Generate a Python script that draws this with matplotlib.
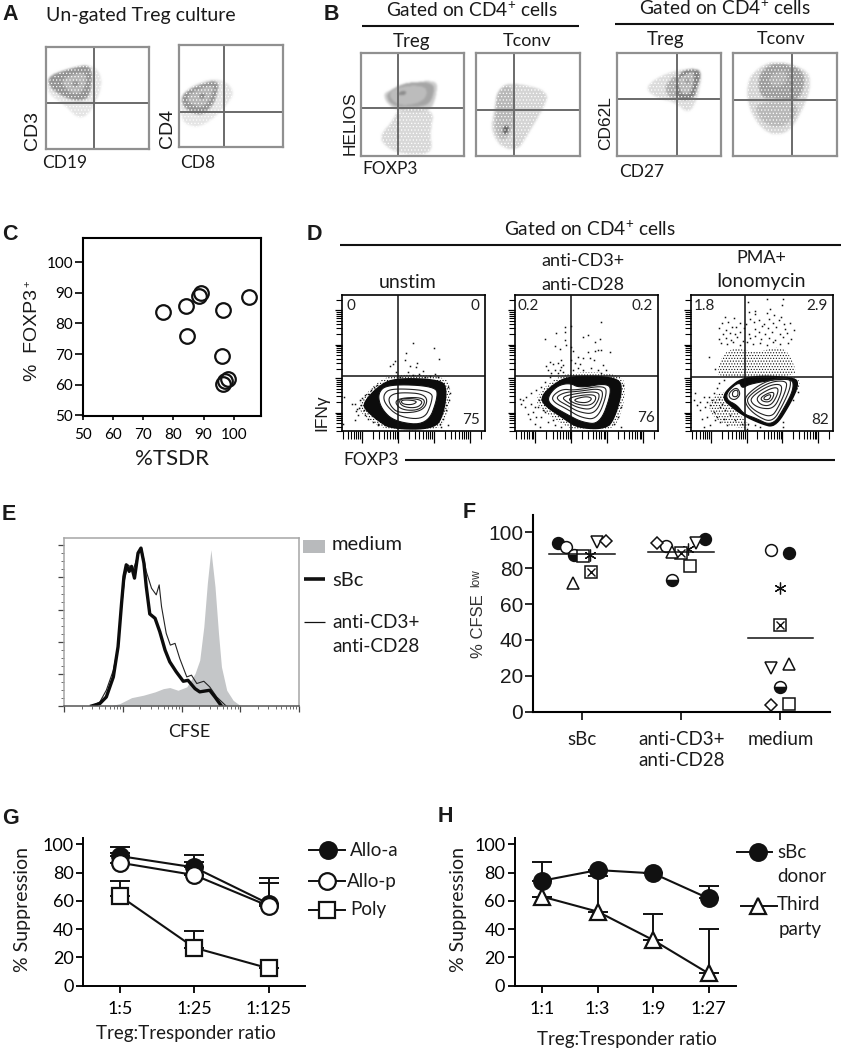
import numpy as np
import matplotlib
matplotlib.use("Agg")
import matplotlib.pyplot as plt
from matplotlib.colors import LinearSegmentedColormap
from matplotlib.path import Path
from matplotlib.patches import Polygon

W, H = 841, 1050
plt.rcParams['font.family'] = ['Lato', 'DejaVu Sans']
plt.rcParams['mathtext.default'] = 'regular'
plt.rcParams['hatch.linewidth'] = 0.5

# ---------- A/B density plots: outlines, percent of box, (polygon, darkness)
a1_zones = [([(0,66),(15,77),(44,85),(56,69),(48,43),(34,27),(18,43),(2,54)], 0.14),
            ([(2,71),(15,77),(43,84),(45,69),(42,49),(27,47),(11,54),(2,63)], 0.55),
            ([(13,69),(39,77),(39,63),(32,53),(21,56)], 0.38),
            ([(25,66),(32,66),(31,62),(26,62)], 0.62)]
a2_zones = [([(1,55),(36,69),(55,55),(44,38),(26,22),(14,19),(1,25)], 0.14),
            ([(1,53),(39,68),(36,48),(30,37),(20,30),(4,37)], 0.55),
            ([(7,51),(35,63),(30,46),(22,38),(9,42)], 0.38),
            ([(19,51),(25,52),(24,47),(20,47)], 0.65)]
b1_zones = [([(36,46),(72,46),(67,23),(70,1),(39,1),(22,10),(18,20),(30,33)], 0.2),
            ([(22,64),(75,77),(73,56),(67,43),(36,43),(23,53)], 0.26),
            ([(25,62),(43,72),(72,72),(70,57),(64,48),(36,47),(26,53)], 0.46),
            ([(28,64),(48,69),(65,67),(62,53),(39,48),(28,56)], 0.34),
            ([(36,62),(44,64),(43,59),(36,59)], 0.6)]
b2_zones = [([(21,66),(34,72),(72,63),(63,43),(50,21),(40,5),(24,8),(14,24),(17,43)], 0.22),
            ([(19,63),(35,71),(37,45),(35,24),(26,13),(17,24),(19,43)], 0.36),
            ([(26,29),(32,29),(30,21),(26,21)], 0.8)]
b3_zones = [([(25,68),(54,84),(83,85),(78,56),(69,40),(57,52),(38,56)], 0.18),
            ([(46,70),(60,82),(60,54),(48,58)], 0.42),
            ([(58,70),(61,84),(83,85),(77,66),(74,55),(57,55)], 0.65),
            ([(60,77),(72,82),(75,82),(72,60),(62,60),(59,68)], 0.36),
            ([(65,76),(70,76),(70,70),(66,70)], 0.5)]
b4_zones = [([(19,82),(39,94),(71,85),(76,69),(65,40),(52,21),(32,21),(15,44),(13,69)], 0.22),
            ([(19,53),(65,53),(58,34),(42,26),(26,34)], 0.36),
            ([(23,79),(39,92),(68,85),(69,66),(61,53),(42,56),(26,56)], 0.5),
            ([(35,80),(52,84),(52,70),(36,66)], 0.4)]

# ---------- C
tsdr = [76.4, 84, 84.4, 88.5, 89.2, 96.5, 105, 96, 98.2, 97, 96.5]
foxp3 = [83.8, 85.7, 75.9, 89, 90, 84.5, 88.6, 69.4, 61.7, 61.1, 60.3]

# ---------- D contour plots, channels (x right, y down)
d1_outer = [(85,340),(130,290),(180,265),(320,270),(335,300),(325,370),(300,415),(170,415),(130,390),(95,360)]
d1_rings = [[(128,308),(160,282),(302,288),(310,320),(278,405),(180,395),(138,355)],
            [(145,312),(170,294),(294,302),(290,340),(268,388),(192,380),(150,342)],
            [(160,320),(190,306),(280,312),(270,362),(192,370),(166,347)],
            [(175,325),(275,320),(260,360),(196,360)],
            [(190,323),(268,328),(250,354),(200,350)],
            [(198,328),(250,332),(234,344),(202,342)]]
d1_dense = [[(70,340),(125,275),(180,252),(335,258),(350,300),(335,385),(310,420),(160,420),(110,395),(75,365)]]
d1_dots = [(235,158),(297,173),(212,188),(312,208),(210,211),(180,212),(173,222),(166,228),(248,220),
           (226,228),(245,232),(183,245),(265,243),(220,245),(252,252),(235,255),(300,253),(195,262),
           (270,260),(285,258),(310,262),(60,340),(65,355),(70,375),(75,330),(50,340),(28,320),(63,362),
           (82,322),(90,315),(100,312),(108,300),(118,290),(125,285),(340,290),(345,310),(342,330),
           (335,345),(335,360),(325,385),(315,400),(90,375),(100,385),(115,395),(130,400),(150,405),
           (60,388),(25,400),(150,280),(130,405),(320,410),(340,405),(78,345),(88,360),(72,352)]

d2_outer = [(100,320),(135,285),(185,258),(330,262),(342,300),(320,380),(295,415),(210,412),(170,385),(110,345)]
d2_rings = [[(118,322),(145,288),(185,278),(215,294),(302,278),(310,310),(276,402),(222,396),(176,372),(128,345)],
            [(130,320),(162,296),(200,301),(290,285),(297,312),(268,388),(218,382),(176,356),(140,338)],
            [(146,319),(173,306),(210,304),(279,294),(286,318),(261,372),(213,366),(177,345),(151,331)],
            [(160,320),(215,308),(272,304),(274,326),(253,358),(213,354),(177,336)],
            [(176,325),(225,314),(264,314),(262,334),(242,347),(203,342)],
            [(196,328),(235,318),(254,325),(238,338),(208,336)]]
d2_dense = [[(85,320),(120,280),(180,245),(340,250),(355,300),(335,385),(310,420),(200,420),(150,395),(90,350)]]
d2_dots = [(280,98),(190,108),(172,113),(143,128),(172,125),(240,135),(225,140),(275,148),(110,148),(260,155),
           (172,150),(140,168),(175,165),(155,178),(190,170),(195,182),(260,182),(280,180),(305,185),(240,185),
           (270,180),(210,200),(225,205),(245,205),(258,210),(285,225),(295,240),(125,215),(135,222),(150,218),
           (160,232),(140,240),(120,240),(165,245),(210,235),(225,240),(250,235),(270,240),(280,248),(150,250),
           (130,250),(160,210),(190,210),(200,220),(215,222),(165,225),(115,228),(155,240),(195,240),(35,325),
           (40,340),(50,350),(60,370),(65,385),(80,400),(95,410),(75,365),(55,320),(85,300),(70,310),(90,350),
           (100,380),(120,395),(140,405),(160,410),(110,365),(85,380),(45,330),(100,290),(110,275),(125,262),
           (340,350),(330,380),(340,410),(318,400),(135,390),(70,340),(80,350),(345,285),(92,330),(105,360)]

d3_outer = [(130,300),(185,258),(335,262),(345,285),(320,340),(275,410),(235,400),(180,375),(140,345),(120,325)]
d3_rings = [[(130,305),(168,274),(176,296),(200,280),(326,262),(332,295),(306,348),(268,408),(213,382),(182,372),(160,344),(130,330)],
            [(136,308),(160,290),(172,312),(156,330),(138,324)],
            [(147,304),(163,298),(164,319),(147,320)],
            [(186,315),(250,270),(320,262),(323,290),(299,344),(267,398),(218,376),(186,344)],
            [(191,320),(255,276),(310,271),(310,296),(284,354),(264,381),(222,367),(194,343)],
            [(201,322),(255,286),(295,281),(295,307),(273,355),(233,355),(206,341)],
            [(216,322),(258,296),(285,291),(283,314),(263,347),(232,345)],
            [(231,322),(260,306),(275,308),(262,336),(237,334)],
            [(242,320),(264,311),(259,328),(242,329)]]
d3_dense = [[(100,245),(118,190),(160,172),(215,190),(300,165),(335,225),(338,262),(110,262)],
            [(70,335),(125,295),(140,345),(180,385),(205,412),(150,412),(90,385)],
            [(190,375),(240,400),(275,412),(300,370),(335,310),(352,290),(345,262),(300,262),(315,340),(270,395)]]
d3_dots = [(250,28),(298,29),(195,36),(297,46),(261,58),(214,63),(198,67),(251,71),(216,73),(272,76),(125,81),
           (294,83),(151,86),(201,88),(226,91),(256,89),(286,92),(134,96),(171,99),(116,101),(189,103),(211,98),
           (241,102),(268,99),(301,104),(321,101),(146,111),(159,113),(106,116),(127,119),(181,114),(216,117),
           (236,110),(254,116),(279,113),(306,118),(331,121),(118,131),(141,128),(154,132),(170,127),(196,131),
           (226,126),(246,133),(266,125),(291,132),(311,129),(105,147),(126,143),(144,149),(161,141),(178,152),
           (199,144),(216,139),(234,148),(256,143),(276,150),(299,141),(322,147),(75,200),(95,238),(111,158),
           (131,162),(149,157),(171,164),(191,156),(209,163),(231,158),(251,165),(269,156),(291,163),(315,159),
           (30,330),(48,335),(60,320),(75,320),(90,310),(100,295),(50,360),(65,350),(80,345),(95,335),(105,325),
           (55,385),(70,380),(90,365),(110,350),(125,360),(60,410),(80,405),(95,390),(120,385),(140,375),(155,390),
           (175,400),(195,400),(215,405),(190,415),(230,410),(298,395),(300,410),(330,330),(345,305),(105,280),
           (120,270),(40,345),(85,330),(115,340),(100,380),(35,310),(70,335),(110,395),(130,405)]

# ---------- E histogram, log decades / % of max
medium_x = [0.78,0.95,1.15,1.35,1.55,1.69,1.80,1.94,2.09,2.23,2.31,2.38,2.44,2.50,2.57,2.63,2.68,2.77,2.88,3.01]
medium_y = [0,1.5,5.2,6.7,8.8,10.8,11.5,9.8,11.9,20.2,28.5,49.4,76.5,97.3,74.4,45.2,24.4,9.8,3.5,0]
sbc_x = [0.47,0.61,0.72,0.84,0.92,0.98,1.02,1.06,1.11,1.15,1.20,1.26,1.31,1.36,1.40,1.46,1.55,1.63,1.72,1.80,1.91,2.03,2.11,2.23,2.31,2.48,2.57,2.68]
sbc_y = [0,1.5,5.6,18.1,36.9,64,80.6,87.9,83.8,86.9,79.6,95.2,98.3,89,74.4,57.3,54.6,46.3,34.8,27.5,21.3,15.4,16,10.8,8.8,9.8,5.6,0]
cd3_x = [0.47,0.61,0.72,0.84,0.92,0.98,1.03,1.09,1.18,1.26,1.32,1.40,1.49,1.57,1.62,1.66,1.74,1.81,1.89,1.97,2.09,2.17,2.26,2.38,2.48,2.60,2.76]
cd3_y = [0,2.5,9.8,22.3,36.9,61.9,78.5,87.9,84.8,94.2,98.3,83.8,73.3,69.2,75.4,61.9,45.2,37.9,39,29.6,18.1,19.2,14,15.4,11.9,5.6,0]

# ---------- F
f_cats = ['sBc', 'anti-CD3+\nanti-CD28', 'medium']
f_means = [87.7, 89, 41.1]
f_points = {
    'filled': [(-0.24,94.2),(1.24,96.1),(2.087,88.3)],
    'open': [(-0.16,92),(0.844,92.4),(1.909,90.1)],
    'half': [(-0.08,87.2),(0.91,73.4),(2.0,13.6)],
    'square': [(0.01,86.8),(1.086,81.2),(2.087,4.5)],
    'star': [(0.08,87.4),(1.07,90.5),(1.993,69.1)],
    'xsquare': [(0.09,78),(1.0,88.3),(2.0,48.3)],
    'up': [(-0.09,71.6),(0.908,89.2),(2.087,26.6)],
    'down': [(0.15,94.4),(1.153,93.9),(1.909,24.2)],
    'diamond': [(0.245,95.4),(0.753,93.9),(1.909,3.7)],
}

# ---------- G
g_labels = ['1:5', '1:25', '1:125']
allo_a = [91.7, 83.7, 58]
allo_a_err = [6.2, 8.8, 18.2]
allo_p = [87, 78.3, 56.4]
allo_p_err = [6.6, 9.4, 16.5]
poly = [63.4, 26.9, 12.3]
poly_err = [10.9, 12, 0]

# ---------- H
h_labels = ['1:1', '1:3', '1:9', '1:27']
sbc_donor = [74.3, 81.8, 79.5, 61.8]
sbc_donor_err = [13, 0, 0, 8.7]
third_party = [63, 52.4, 32.3, 8.7]
third_party_err = [0, 25.2, 18.4, 31.4]

fig = plt.figure(figsize=(W / 100, H / 100), dpi=100)


def add_ax(x0, y0, x1, y1):
    return fig.add_axes([x0 / W, 1 - y1 / H, (x1 - x0) / W, (y1 - y0) / H])


def smooth(pts, n=3):
    p = np.array(pts, dtype=float)
    for _ in range(n):
        q = np.roll(p, -1, axis=0)
        p = np.column_stack([0.75 * p + 0.25 * q, 0.25 * p + 0.75 * q]).reshape(-1, 2)
    return p


# overlay in pixels for labels and rules
ov = fig.add_axes([0, 0, 1, 1], zorder=10)
ov.set_xlim(0, W)
ov.set_ylim(H, 0)
ov.axis('off')
ov.patch.set_alpha(0)


def txt(x, y, s, size=12.5, ha='left', va='center', rot=0, font='Lato', color='#1a1a1a', weight='normal'):
    ov.text(x, y, s, fontsize=size, ha=ha, va=va, rotation=rot, family=font, color=color, fontweight=weight)


def rule(x0, x1, y, lw=1.5):
    ov.plot([x0, x1], [y, y], color='#111111', lw=lw, solid_capstyle='butt')


gray_map = LinearSegmentedColormap.from_list('flow', ['#ffffff', '#3c3c3c'])


def density(box, zones, vline, hline):
    x0, y0, x1, y1 = box
    ax = add_ax(x0, y0, x1, y1)
    g = np.linspace(0, 100, 130)
    xx, yy = np.meshgrid(g, g)
    grid = np.column_stack([xx.ravel(), yy.ravel()])
    img = np.zeros(xx.shape)
    for pts, lev in zones:
        mask = Path(smooth(pts)).contains_points(grid).reshape(xx.shape)
        img[mask] = lev
    kernel = np.exp(-0.5 * (np.arange(-5, 6) / 1.3) ** 2)
    kernel /= kernel.sum()
    img = np.apply_along_axis(lambda r: np.convolve(r, kernel, mode='same'), 0, img)
    img = np.apply_along_axis(lambda r: np.convolve(r, kernel, mode='same'), 1, img)
    ax.imshow(img, extent=(0, 100, 0, 100), origin='lower', cmap=gray_map, vmin=0, vmax=1, aspect='auto')
    # white speckle over the sparse outer zone
    ax.add_patch(Polygon(smooth(zones[0][0]), closed=True, fill=False, hatch='.....', ec='white', lw=0))
    ax.set_xticks([])
    ax.set_yticks([])
    for s in ax.spines.values():
        s.set_color('#909090')
        s.set_linewidth(1.6)
    ax.axvline((vline - x0) / (x1 - x0) * 100, color='#6a6a6a', lw=1.4)
    ax.axhline((y1 - hline) / (y1 - y0) * 100, color='#6a6a6a', lw=1.4)


density((46, 47, 149, 149), a1_zones, 94, 103)
density((179, 45, 283, 147.5), a2_zones, 224, 112)
density((361, 53, 464, 156), b1_zones, 398, 108)
density((476, 53, 580, 156), b2_zones, 514, 109.5)
density((617, 53, 721, 156), b3_zones, 677, 99)
density((733, 53, 837, 156), b4_zones, 792, 99.5)

txt(2, 15, 'A', 15.5, font='Liberation Sans', weight='bold')
txt(46, 15, 'Un-gated Treg culture', 14)
txt(33, 130, 'CD3', 14, ha='center', rot=90, font='Liberation Sans')
txt(42, 163, 'CD19', 12.5)
txt(168, 128, 'CD4', 14, ha='center', rot=90, font='Liberation Sans')
txt(180, 163, 'CD8', 12.5)

txt(324, 15, 'B', 15.5, font='Liberation Sans', weight='bold')
txt(472, 10, r'Gated on CD4$^{+}$ cells', 13.8, ha='center')
rule(362, 579, 26)
txt(725, 8, r'Gated on CD4$^{+}$ cells', 13.8, ha='center')
rule(615, 834, 24)
txt(412, 41, 'Treg', 13.5, ha='center')
txt(527, 41, 'Tconv', 13, ha='center')
txt(666, 39, 'Treg', 13.5, ha='center')
txt(781, 39, 'Tconv', 13, ha='center')
txt(350, 123, 'HELIOS', 12.5, ha='center', rot=90, font='Liberation Sans')
txt(362, 169, 'FOXP3', 12.5)
txt(606, 123, 'CD62L', 12.5, ha='center', rot=90, font='Liberation Sans')
txt(619, 172, 'CD27', 12.5)

# C
ax_c = add_ax(83, 238, 260.6, 415.7)
ax_c.plot(tsdr, foxp3, 'o', ms=10.5, mfc='none', mec='#111111', mew=1.6)
ax_c.set_xlim(50, 108.9)
ax_c.set_ylim(49.8, 108)
ax_c.set_xticks(range(50, 101, 10))
ax_c.set_yticks(range(50, 101, 10))
ax_c.tick_params(axis='y', length=6, width=1.2, labelsize=11, pad=1)
ax_c.tick_params(axis='x', length=3, width=1.2, labelsize=11, pad=6)
for s in ax_c.spines.values():
    s.set_linewidth(1.5)
txt(2, 235, 'C', 15.5, font='Liberation Sans', weight='bold')
txt(172, 459, '%TSDR', 16, ha='center')
txt(33, 335, '%  FOXP3', 14, ha='center', rot=90, font='Liberation Sans')
txt(27, 284, '+', 8, ha='center', rot=90, font='Liberation Sans')

# D


def contour_plot(box, limits, vline, hline, outer, rings, dots, dense=None):
    ax = add_ax(*box)
    ax.set_xlim(limits[0], limits[1])
    ax.set_ylim(limits[3], limits[2])
    for pts in dense:
        ax.add_patch(Polygon(smooth(pts), closed=True, fill=False, hatch='......', ec='#111111', lw=0, zorder=1))
    d = np.array(dots)
    ax.plot(d[:, 0], d[:, 1], 's', ms=1.1, color='#111111', mew=0, zorder=2)
    ax.add_patch(Polygon(smooth(outer), closed=True, fc='#0c0c0c', ec='#0c0c0c', lw=1.5, zorder=3))
    ax.add_patch(Polygon(smooth(rings[0]), closed=True, fc='white', ec='#111111', lw=0.8, zorder=4))
    for r in rings[1:]:
        ax.add_patch(Polygon(smooth(r), closed=True, fc='none', ec='#222222', lw=0.8, zorder=5))
    ax.axvline(vline, color='#111111', lw=1.1, zorder=6)
    ax.axhline(hline, color='#111111', lw=1.1, zorder=6)
    offs = np.log10(10 / np.arange(2, 10))
    xmaj = [81, 190, 297, 405]
    ymaj = [62, 165, 265, 368]
    xmin = [m - o * 108 for m in xmaj + [513] for o in offs if limits[0] < m - o * 108 < limits[1]]
    ymin = [m + o * 102 for m in ymaj + [-40] for o in offs if limits[2] < m + o * 102 < limits[3]]
    ax.set_xticks(xmaj)
    ax.set_xticks(xmin, minor=True)
    ax.set_yticks(ymaj)
    ax.set_yticks(ymin, minor=True)
    ax.tick_params(which='major', axis='x', length=8.5, width=0.9, labelbottom=False)
    ax.tick_params(which='minor', axis='x', length=5.5, width=0.8)
    ax.tick_params(which='major', axis='y', length=5, width=0.9, labelleft=False)
    ax.tick_params(which='minor', axis='y', length=4, width=0.8)
    for s in ax.spines.values():
        s.set_linewidth(1.2)
    return ax


def corner_text(ax, a, b, c):
    for x, y, s in [a, b, c]:
        ax.text(x, y, s, fontsize=11, ha='center', va='center', family='Lato', color='#222222', zorder=7)


ax_d1 = contour_plot((342, 295, 485, 431), (21, 451, 16, 422), 190, 257, d1_outer, d1_rings, d1_dots, d1_dense)
corner_text(ax_d1, (48, 48, '0'), (420, 48, '0'), (408, 388, '75'))
ax_d2 = contour_plot((515, 295, 658, 431), (21, 450, 16, 422), 188, 258, d2_outer, d2_rings, d2_dots, d2_dense)
corner_text(ax_d2, (62, 48, '0.2'), (403, 48, '0.2'), (415, 383, '76'))
ax_d3 = contour_plot((691, 295, 833, 431), (22, 450, 16, 422), 186, 260, d3_outer, d3_rings, d3_dots, d3_dense)
corner_text(ax_d3, (62, 48, '1.8'), (403, 48, '2.9'), (410, 390, '82'))

txt(307, 235, 'D', 15.5, font='Liberation Sans', weight='bold')
txt(590, 229, r'Gated on CD4$^{+}$ cells', 13.8, ha='center')
rule(340, 841, 245)
txt(408, 283, 'unstim', 14, ha='center')
txt(583, 261, 'anti-CD3+', 13, ha='center')
txt(583, 285, 'anti-CD28', 13, ha='center')
txt(761, 258, 'PMA+', 13, ha='center')
txt(761, 282, 'Ionomycin', 14, ha='center')
txt(322, 413, 'IFN\u03b3', 12.5, ha='center', rot=90, font=['Liberation Sans', 'DejaVu Sans'])
txt(343, 460, 'FOXP3', 12.5)
rule(405, 835, 460)

# E
ax_e = add_ax(64, 538, 299, 706)
ax_e.fill_between(medium_x, medium_y, color='#c4c6c8', lw=0)
ax_e.plot(cd3_x, cd3_y, color='#222222', lw=0.8)
ax_e.plot(sbc_x, sbc_y, color='#0c0c0c', lw=2.4)
ax_e.set_xlim(0, 4)
ax_e.set_ylim(0, 100 * (617 - 115) / 480)
ax_e.set_xticks(range(5))
ax_e.set_xticks([k + np.log10(m) for k in range(4) for m in range(2, 10)], minor=True)
ax_e.set_yticks(range(0, 101, 20))
ax_e.set_yticks(range(0, 101, 5), minor=True)
ax_e.tick_params(which='major', length=4, width=0.9, color='#444444', labelbottom=False, labelleft=False)
ax_e.tick_params(which='minor', length=2, width=0.6, color='#555555')
for s in ax_e.spines.values():
    s.set_color('#a6a6a6')
    s.set_linewidth(1.1)
ax_e.spines['bottom'].set_color('#555555')
txt(2, 515, 'E', 15.5, font='Liberation Sans', weight='bold')
ov.add_patch(Polygon([(303, 540), (325, 540), (325, 553), (303, 553)], closed=True, fc='#b8babc', ec='none'))
txt(332, 545, 'medium', 14.5)
rule(304, 325, 579, 2.6)
txt(332, 581, 'sBc', 14.5)
rule(304, 325, 622, 0.9)
txt(332, 622, 'anti-CD3+', 13.7)
txt(332, 646, 'anti-CD28', 13.7)
txt(189, 732, 'CFSE', 13, ha='center')

# F
ax_f = add_ax(533, 515, 830, 711.7)
f_x0 = (582 - 533) / 99.2
ax_f.set_xlim(-f_x0, (830 - 582) / 99.2)
ax_f.set_ylim(0, 109.7)
styles = {
    'filled': dict(marker='o', mfc='#111111'),
    'open': dict(marker='o', mfc='white'),
    'half': dict(marker='o', mfc='#111111', mfcalt='white', fillstyle='bottom'),
    'square': dict(marker='s', mfc='white'),
    'star': dict(marker=(6, 2, 0)),
    'xsquare': dict(marker='s', mfc='white'),
    'up': dict(marker='^', mfc='white'),
    'down': dict(marker='v', mfc='white'),
    'diamond': dict(marker='D', mfc='white'),
}
sizes = {'diamond': 6.5, 'star': 8.5}
for name, pts in f_points.items():
    p = np.array(pts)
    ax_f.plot(p[:, 0], p[:, 1], ls='none', ms=sizes.get(name, 8.5), mec='#111111',
              mew=0.9 if name == 'star' else 1.1, clip_on=False, zorder=3, **styles[name])
    if name == 'xsquare':
        ax_f.plot(p[:, 0], p[:, 1], ls='none', marker='x', ms=6, mec='#111111', mew=1, zorder=4)
for i, m in enumerate(f_means):
    ax_f.plot([i - 0.33, i + 0.33], [m, m], color='#111111', lw=1.1, zorder=5)
ax_f.set_xticks(range(3))
ax_f.set_xticklabels(f_cats, fontsize=13.5, family='Lato', linespacing=1.3)
ax_f.set_yticks(range(0, 101, 20))
ax_f.set_yticklabels(range(0, 101, 20), fontsize=15, family='Liberation Sans')
ax_f.tick_params(axis='y', length=6, width=1.3, pad=1, colors='#1a1a1a')
ax_f.tick_params(axis='x', length=6, width=1.3, pad=8, colors='#1a1a1a')
ax_f.spines[['top', 'right']].set_visible(False)
ax_f.spines[['left', 'bottom']].set_linewidth(1.5)
txt(463, 513, 'F', 15.5, font='Liberation Sans', weight='bold')
txt(479, 626, '% CFSE', 12, ha='center', rot=90, font='Liberation Sans', color='#333333')
txt(476, 578, 'low', 8.5, ha='center', rot=90, font='Liberation Sans', color='#333333')


# G and H
def suppression_axes(box, labels, spacing, first):
    ax = add_ax(*box)
    ax.set_xlim((box[0] - first) / spacing, (box[2] - first) / spacing)
    ax.set_ylim(0, 104.5)
    ax.set_xticks(range(len(labels)))
    ax.set_xticklabels(labels, fontsize=13, family='Lato')
    ax.set_yticks(range(0, 101, 20))
    ax.set_yticklabels(range(0, 101, 20), fontsize=13, family='Lato')
    ax.tick_params(axis='y', length=5, width=1.3, pad=2)
    ax.tick_params(axis='x', length=5, width=1.3, pad=6)
    ax.spines[['top', 'right']].set_visible(False)
    ax.spines[['left', 'bottom']].set_linewidth(1.4)
    return ax


def series(ax, y, err, marker, fc):
    x = range(len(y))
    ax.errorbar(x, y, yerr=[np.zeros(len(y)), err], fmt='none', ecolor='#111111', elinewidth=1.4,
                capsize=7, capthick=1.4, zorder=2)
    ax.plot(x, y, color='#111111', lw=1.5, marker=marker, ms=12, mfc=fc, mec='#111111', mew=1.6, zorder=3,
            clip_on=False)


ax_g = suppression_axes((83.3, 838, 305, 985.7), g_labels, 74.3, 120)
series(ax_g, allo_a, allo_a_err, 'o', '#111111')
series(ax_g, allo_p, allo_p_err, 'o', 'white')
series(ax_g, poly, poly_err, 's', 'white')
txt(2, 818, 'G', 15.5, font='Liberation Sans', weight='bold')
txt(23, 910, '% Suppression', 14, ha='center', rot=90)
txt(186, 1034, 'Treg:Tresponder ratio', 13.5, ha='center')


def legend_item(x0, x1, xm, y, marker, fc):
    ov.plot([x0, x1], [y, y], color='#111111', lw=1.4)
    ov.plot([xm], [y], marker=marker, ms=12, mfc=fc, mec='#111111', mew=1.6)


legend_item(309, 345, 328, 850, 'o', '#111111')
txt(350, 850, 'Allo-a', 13.5)
legend_item(309, 345, 327, 881, 'o', 'white')
txt(347, 881, 'Allo-p', 13.5)
legend_item(309, 345, 327, 910, 's', 'white')
txt(350, 910, 'Poly', 13.5)

ax_h = suppression_axes((515, 838, 736, 985.7), h_labels, 55.4, 542.3)
series(ax_h, sbc_donor, sbc_donor_err, 'o', '#111111')
series(ax_h, third_party, third_party_err, '^', 'white')
txt(438, 817, 'H', 15.5, font='Liberation Sans', weight='bold')
txt(459, 910, '% Suppression', 14, ha='center', rot=90)
txt(627, 1039, 'Treg:Tresponder ratio', 13.5, ha='center')
legend_item(737, 772, 758, 852, 'o', '#111111')
txt(777, 852, 'sBc', 13.5)
txt(777, 877, 'donor', 13.5)
legend_item(741, 777, 758, 906, '^', 'white')
txt(777, 905, 'Third', 13.5)
txt(779, 930, 'party', 13.5)

fig.savefig('out.png', dpi=100)
